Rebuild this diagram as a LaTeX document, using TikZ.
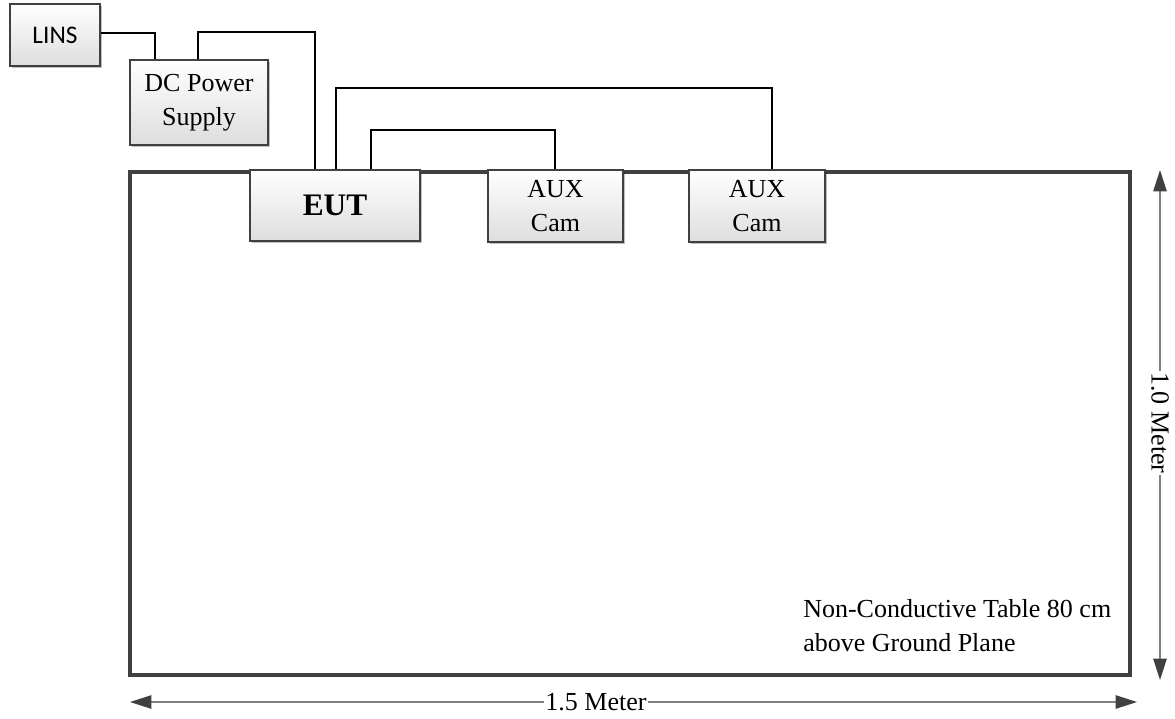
\documentclass[tikz,border=0pt]{standalone}
\usepackage{fontspec}
\setmainfont{Liberation Serif}
\newfontfamily\linsfont{Carlito}
\usetikzlibrary{arrows.meta,shadows}
\definecolor{frame}{HTML}{404040}
\definecolor{dimline}{HTML}{808080}
\begin{document}
\begin{tikzpicture}[x=0.75pt,y=-0.75pt,
  box/.style={draw=frame,line width=1.5pt,inner sep=0pt,
    top color=white,bottom color=black!13,
    drop shadow={shadow xshift=1.5pt,shadow yshift=-1.5pt,opacity=0.25,fill=black},
    align=center,font=\fontsize{19.5}{25.5}\selectfont},
  wire/.style={draw=black,line width=1.1pt},
  dim/.style={draw=dimline,line width=1.1pt,
    {Triangle[length=16pt,width=10pt,fill=frame,color=frame]}-{Triangle[length=16pt,width=10pt,fill=frame,color=frame]}},
  lbl/.style={font=\fontsize{19.5}{23.5}\selectfont,fill=white,inner sep=1pt}]
\useasboundingbox (0,0) rectangle (1175,718);

% table
\node[draw=frame,line width=2.5pt,inner sep=0pt,
  drop shadow={shadow xshift=1.5pt,shadow yshift=-1.5pt,opacity=0.2,fill=black},fill=white,
  minimum width=750pt,minimum height=377.25pt] (table) at (630,423.5) {};

% boxes
\node[box,minimum width=67.5pt,minimum height=46.5pt,font=\linsfont\fontsize{19}{22}\selectfont] (lins) at (55,35) {LINS};
\node[box,minimum width=103.5pt,minimum height=63.75pt] (dc) at (199,102.5) {DC Power\\Supply};
\node[box,minimum width=127.5pt,minimum height=53.25pt,font=\bfseries\fontsize{23.5}{27}\selectfont] (eut) at (335,205.5) {EUT};
\node[box,minimum width=101.25pt,minimum height=54pt] (aux1) at (555.5,206) {AUX\\Cam};
\node[box,minimum width=102pt,minimum height=54pt] (aux2) at (757,206) {AUX\\Cam};

% wires
\coordinate (w1) at (155,33);
\draw[wire] (lins.east |- w1) -| (dc.north -| w1);
\coordinate (w2) at (198,32);
\coordinate (w3) at (315,32);
\draw[wire] (dc.north -| w2) -- (w2) -- (w3) -- (eut.north -| w3);
\coordinate (w4) at (336,88);
\coordinate (w5) at (772,88);
\draw[wire] (eut.north -| w4) -- (w4) -- (w5) -- (aux2.north -| w5);
\coordinate (w6) at (371,130);
\coordinate (w7) at (555,130);
\draw[wire] (eut.north -| w6) -- (w6) -- (w7) -- (aux1.north -| w7);

% table caption
\node[anchor=north west,align=left,font=\fontsize{19.5}{25.5}\selectfont,inner sep=0pt] (cap) at (803,599)
  {Non-Conductive Table 80 cm\\above Ground Plane};

% dimensions
\coordinate (h1) at (130,702);
\coordinate (h2) at (1137,702);
\draw[dim] (h1) -- (h2);
\node[lbl] (hl) at (596,702) {1.5 Meter};
\coordinate (v1) at (1160,170);
\coordinate (v2) at (1160,680);
\draw[dim] (v1) -- (v2);
\node[lbl,rotate=-90] (vl) at (1160,423) {1.0 Meter};
\end{tikzpicture}
\end{document}
